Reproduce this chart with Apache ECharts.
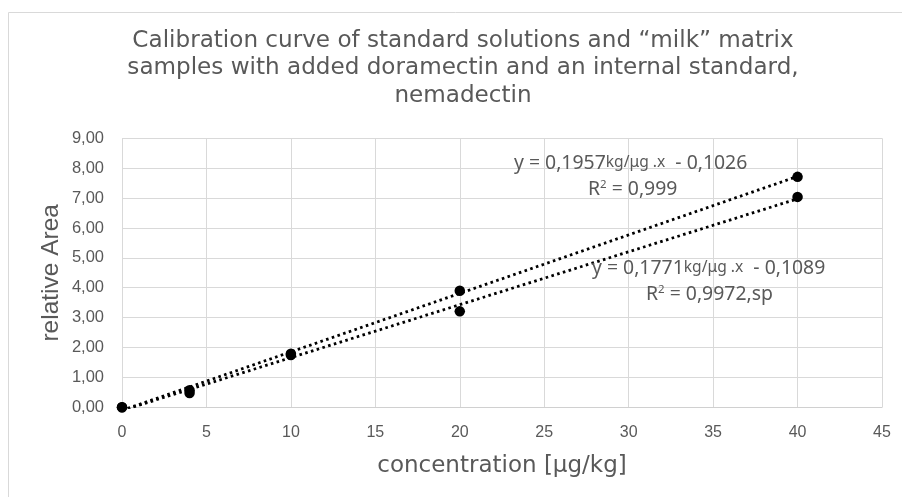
<!DOCTYPE html>
<html><head><meta charset="utf-8">
<script src="https://cdn.jsdelivr.net/npm/echarts@6/dist/echarts.min.js"></script>
<style>html,body{margin:0;padding:0;background:#fff}#c{width:902px;height:497px}</style>
</head><body><div id="c"></div>
<script>
// Data
const concentrations = [0, 4, 10, 20, 40];
const standardArea = [0.00, 0.57, 1.79, 3.90, 7.71];
const milkArea = [0.00, 0.48, 1.75, 3.21, 7.04];
const trendX = [0, 40];
const standardTrend = [-0.1026, 7.7254];
const milkTrend = [-0.1089, 6.9751];
const yTicks = { min: 0, max: 9, step: 1 };
const xTicks = { min: 0, max: 45, step: 5 };
const titleText = 'Calibration curve of standard solutions and \u201cmilk\u201d matrix\nsamples with added doramectin and an internal standard,\nnemadectin';

const pairs = (xs, ys) => xs.map((x, i) => [x, ys[i]]);
const gray = '#595959';
const chart = echarts.init(document.getElementById('c'));
const dotted = { color: '#000', width: 2.8, type: [2.6, 3.4], cap: 'butt' };
const eqFont = 'Noto Sans';
const eqRich = {
  a: { fontFamily: eqFont, fontSize: 19.4, fill: gray },
  b: { fontFamily: eqFont, fontSize: 15.6, fill: gray },
  s: { fontFamily: eqFont, fontSize: 11.5, fill: gray, verticalAlign: 'top', padding: [0, 0, 9, 0] }
};
function eqText(x, y, text) {
  return { type: 'text', x: x, y: y, style: { text: text, rich: eqRich, verticalAlign: 'middle', align: 'left' }, z: 10 };
}
chart.setOption({
  animation: false,
  title: {
    text: titleText, left: 458, top: 22, textAlign: 'center',
    textStyle: { fontFamily: 'DejaVu Sans', fontSize: 23.1, fontWeight: 'normal', color: gray, lineHeight: 27.5 }
  },
  grid: { left: 122, right: 20, top: 138.3, bottom: 89.7 },
  xAxis: {
    type: 'value', min: xTicks.min, max: xTicks.max, interval: xTicks.step,
    name: 'concentration [\u03bcg/kg]', nameLocation: 'middle', nameGap: 47, nameMoveOverlap: false,
    nameTextStyle: { fontFamily: 'DejaVu Sans', fontSize: 23, color: gray },
    axisLine: { lineStyle: { color: '#d0d0d0', width: 1 } },
    axisTick: { show: false },
    axisLabel: { color: gray, fontSize: 16, fontFamily: 'Liberation Sans', margin: 17 },
    splitLine: { show: true, lineStyle: { color: '#d9d9d9', width: 1 } }
  },
  yAxis: {
    type: 'value', min: yTicks.min, max: yTicks.max, interval: yTicks.step,
    name: 'relative Area', nameLocation: 'middle', nameGap: 58, nameRotate: 90, nameMoveOverlap: false,
    nameTextStyle: { fontFamily: 'Liberation Sans', fontSize: 24.5, color: gray },
    axisLine: { show: false }, axisTick: { show: false },
    axisLabel: { color: gray, fontSize: 16.5, fontFamily: 'Liberation Sans', margin: 18,
      formatter: v => v.toFixed(2).replace('.', ',') },
    splitLine: { show: true, lineStyle: { color: '#d9d9d9', width: 1 } }
  },
  series: [
    { type: 'line', data: pairs(trendX, standardTrend), symbol: 'none', lineStyle: dotted, z: 2 },
    { type: 'line', data: pairs(trendX, milkTrend), symbol: 'none', lineStyle: dotted, z: 2 },
    { type: 'scatter', data: pairs(concentrations, standardArea), symbol: 'circle', symbolSize: 10.5, itemStyle: { color: '#000', opacity: 1 }, z: 3 },
    { type: 'scatter', data: pairs(concentrations, milkArea), symbol: 'circle', symbolSize: 10.5, itemStyle: { color: '#000', opacity: 1 }, z: 3 }
  ],
  graphic: [
    { type: 'rect', shape: { x: 8.5, y: 12.5, width: 1000, height: 1000 }, style: { fill: 'none', stroke: '#d9d9d9', lineWidth: 1 }, z: -1, silent: true },
    eqText(514, 163, '{a|y = 0,1957}{b|kg/\u03bcg .x}{a|  - 0,1026}'),
    eqText(588, 189, '{a|R}{s|2}{a| = 0,999}'),
    eqText(592, 268, '{a|y = 0,1771}{b|kg/\u03bcg .x}{a|  - 0,1089}'),
    eqText(646, 294, '{a|R}{s|2}{a| = 0,9972,sp}')
  ]
});
</script></body></html>
